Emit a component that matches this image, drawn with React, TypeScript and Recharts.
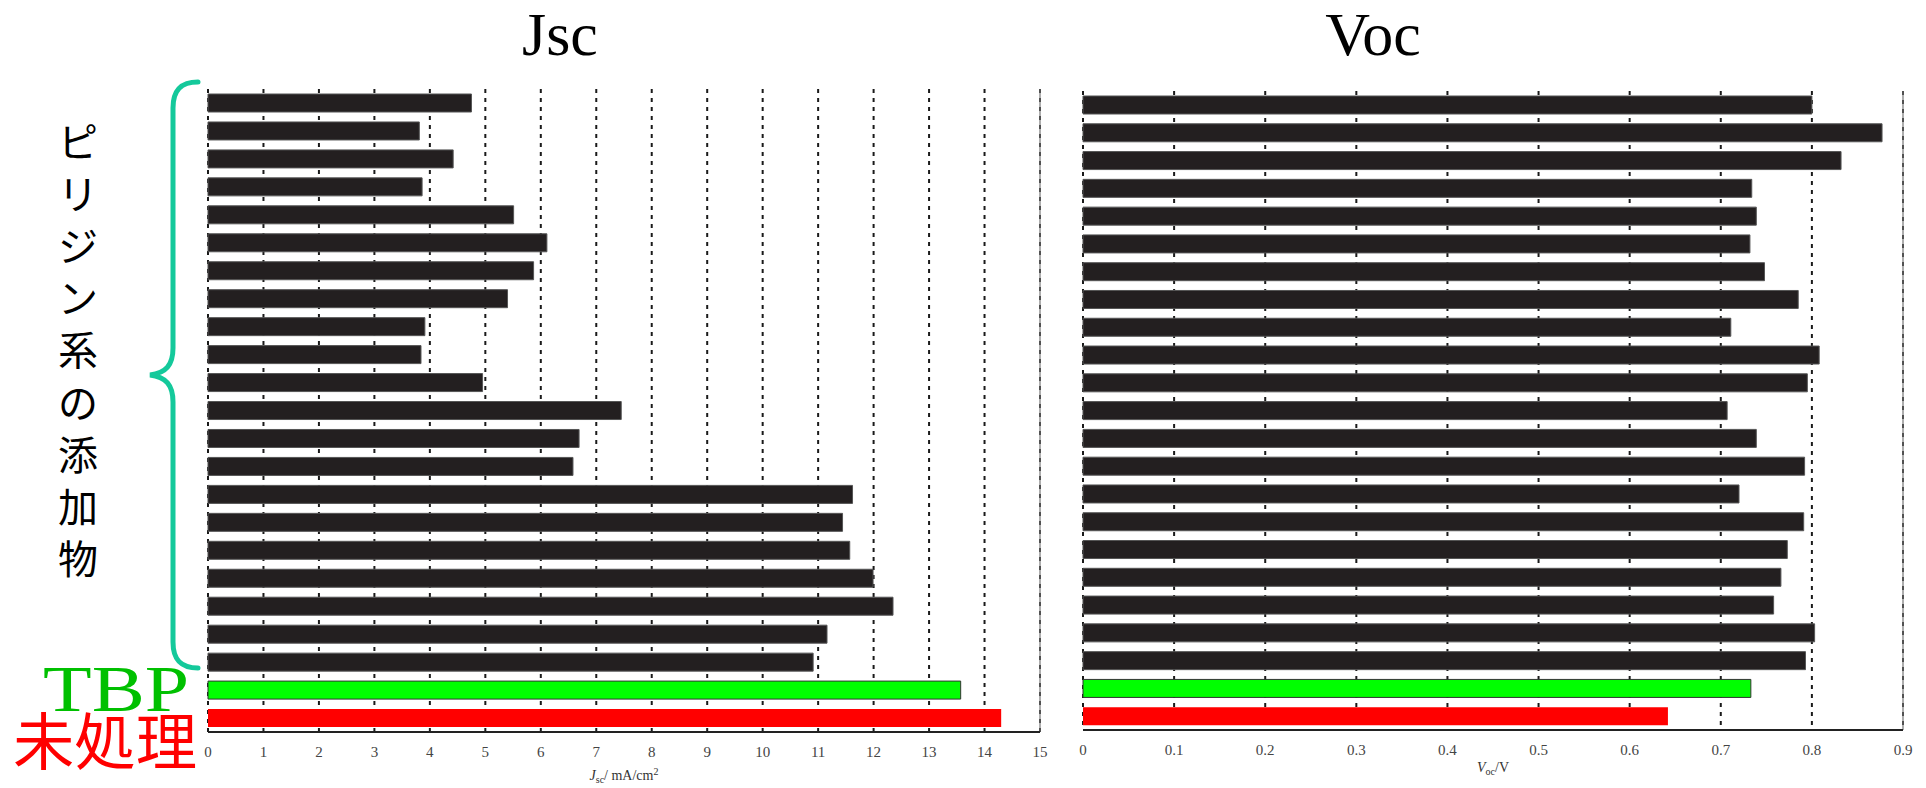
import React from 'react';
import { BarChart, Bar, XAxis, YAxis, CartesianGrid, Cell, ReferenceLine } from 'recharts';

const categories = [
  'P1', 'P2', 'P3', 'P4', 'P5', 'P6', 'P7', 'P8', 'P9', 'P10', 'P11',
  'P12', 'P13', 'P14', 'P15', 'P16', 'P17', 'P18', 'P19', 'P20', 'P21',
  'TBP', '未処理',
];

const jscValues = [
  4.75, 3.81, 4.42, 3.86, 5.51, 6.11, 5.87, 5.40, 3.91, 3.84, 4.95,
  7.45, 6.69, 6.58, 11.62, 11.44, 11.57, 11.99, 12.35, 11.16, 10.91,
  13.57, 14.30,
];

const vocValues = [
  0.800, 0.877, 0.832, 0.734, 0.739, 0.732, 0.748, 0.785, 0.711, 0.808, 0.795,
  0.707, 0.739, 0.792, 0.720, 0.791, 0.773, 0.766, 0.758, 0.803, 0.793,
  0.733, 0.642,
];

const jscTicks = [0, 1, 2, 3, 4, 5, 6, 7, 8, 9, 10, 11, 12, 13, 14, 15];
const vocTicks = [0, 0.1, 0.2, 0.3, 0.4, 0.5, 0.6, 0.7, 0.8, 0.9];

const BLACK = '#231f20';
const GREEN = '#00ff00';
const RED = '#ff0000';
const barColors = categories.map((c) => (c === 'TBP' ? GREEN : c === '未処理' ? RED : BLACK));

const sideLabel = 'ピリジン系の添加物';
const titleJsc = 'Jsc';
const titleVoc = 'Voc';
const labelTBP = 'TBP';
const labelUntreated = '未処理';

const jscData = categories.map((name, i) => ({ name, value: jscValues[i] }));
const vocData = categories.map((name, i) => ({ name, value: vocValues[i] }));

const SERIF = '"Liberation Serif", "Times New Roman", serif';
const CJK = '"Noto Sans CJK JP", "Noto Sans", sans-serif';

const tickStyle = { fontFamily: SERIF, fontSize: 15, fill: '#444' };

const JscLabel = (props: any) => {
  const vb = props.viewBox || {};
  const cx = vb.x + vb.width / 2;
  const y = vb.y + 48;
  return (
    <text x={cx} y={y} textAnchor="middle" fontFamily={SERIF} fontSize={14} fill="#333">
      <tspan fontStyle="italic">J</tspan>
      <tspan fontSize={10} dy={3}>sc</tspan>
      <tspan dy={-3}>/ mA/cm</tspan>
      <tspan fontSize={10} dy={-5}>2</tspan>
    </text>
  );
};

const VocLabel = (props: any) => {
  const vb = props.viewBox || {};
  const cx = vb.x + vb.width / 2;
  const y = vb.y + 42;
  return (
    <text x={cx} y={y} textAnchor="middle" fontFamily={SERIF} fontSize={14} fill="#333">
      <tspan fontStyle="italic">V</tspan>
      <tspan fontSize={10} dy={3}>oc</tspan>
      <tspan dy={-3}>/V</tspan>
    </text>
  );
};

const Panel = ({
  data, domain, ticks, width, height, margin, label, topStroke,
}: any) => (
  <BarChart
    layout="vertical"
    width={width}
    height={height}
    data={data}
    margin={margin}
    barCategoryGap={0}
  >
    <CartesianGrid horizontal={false} vertical stroke="#1a1a1a" strokeWidth={2} strokeDasharray="4 5" />
    <XAxis
      type="number"
      domain={domain}
      ticks={ticks}
      interval={0}
      tickLine={false}
      tickMargin={8}
      height={30}
      axisLine={{ stroke: '#222', strokeWidth: 2 }}
      tick={tickStyle}
      label={label}
    />
    <XAxis
      xAxisId="top"
      orientation="top"
      type="number"
      domain={domain}
      tick={false}
      tickLine={false}
      height={0}
      axisLine={{ stroke: topStroke, strokeWidth: 1.5 }}
    />
    <YAxis
      type="category"
      dataKey="name"
      width={0}
      tick={false}
      tickLine={false}
      axisLine={{ stroke: '#222', strokeWidth: 1.5 }}
    />
    <ReferenceLine x={domain[1]} stroke="#777" strokeWidth={1.2} />
    <Bar dataKey="value" barSize={18} isAnimationActive={false}>
      {data.map((d: any, i: number) => (
        <Cell
          key={d.name}
          fill={barColors[i]}
          stroke={d.name === 'TBP' ? '#333' : barColors[i] === BLACK ? '#555' : 'none'}
          strokeWidth={1}
        />
      ))}
    </Bar>
  </BarChart>
);

export default function App() {
  const chars = Array.from(sideLabel);
  return (
    <div style={{ position: 'absolute', left: 0, top: 0, width: 1926, height: 788, background: '#fff', overflow: 'hidden' }}>
      <svg width={1926} height={788} style={{ position: 'absolute', left: 0, top: 0 }}>
        <text x={560} y={55} textAnchor="middle" fontFamily={SERIF} fontSize={62} fill="#000">{titleJsc}</text>
        <text x={1373} y={55} textAnchor="middle" fontFamily={SERIF} fontSize={62} fill="#000">{titleVoc}</text>
        {chars.map((ch, i) => (
          <text key={i} x={78} y={142 + i * 52.1 + 15} textAnchor="middle" fontFamily={CJK} fontSize={40} fill="#000">{ch}</text>
        ))}
        <path
          d="M198,82 C181,82 173,90 173,108 L173,348 C173,365 166,373 150,375 C166,377 173,385 173,402 L173,642 C173,660 181,668 198,668"
          fill="none"
          stroke="#14c99b"
          strokeWidth={5}
          strokeLinecap="round"
        />
        <text x={43} y={711} fontFamily={SERIF} fontSize={66} fill="#00c000" textLength={146} lengthAdjust="spacingAndGlyphs">{labelTBP}</text>
        <text x={13} y={765} fontFamily={CJK} fontSize={62} fontWeight={400} fill="#ff0000" textLength={184} lengthAdjust="spacingAndGlyphs">{labelUntreated}</text>
      </svg>
      <div style={{ position: 'absolute', left: 0, top: 0 }}>
        <Panel
          data={jscData}
          domain={[0, 15]}
          ticks={jscTicks}
          width={1060}
          height={788}
          margin={{ top: 89, left: 208, right: 20, bottom: 26 }}
          label={<JscLabel />}
          topStroke="#888"
        />
      </div>
      <div style={{ position: 'absolute', left: 1060, top: 0 }}>
        <Panel
          data={vocData}
          domain={[0, 0.9]}
          ticks={vocTicks}
          width={866}
          height={788}
          margin={{ top: 91, left: 23, right: 23, bottom: 28 }}
          label={<VocLabel />}
          topStroke="#333"
        />
      </div>
    </div>
  );
}
